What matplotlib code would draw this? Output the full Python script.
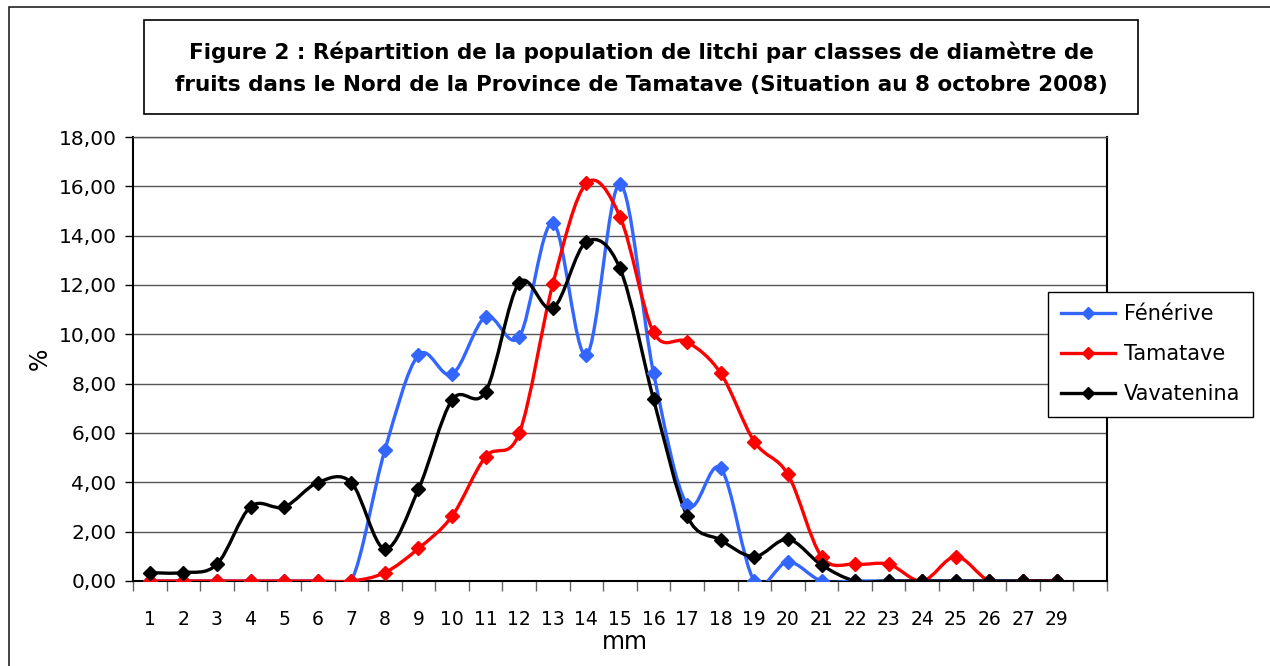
import matplotlib
matplotlib.use("Agg")
import matplotlib.pyplot as plt
from matplotlib.path import Path
from matplotlib.patches import PathPatch, Rectangle
from matplotlib.lines import Line2D
import numpy as np

categories = ['1', '2', '3', '4', '5', '6', '7', '8', '9', '10', '11', '12', '13', '14',
              '15', '16', '17', '18', '19', '20', '21', '22', '23', '24', '25', '26', '27', '29', '']

fenerive = [0, 0, 0, 0, 0, 0, 0, 5.31, 9.16, 8.38, 10.71, 9.90, 14.52, 9.16, 16.09, 8.42,
            3.10, 4.57, 0.0, 0.78, 0.0, 0, 0, 0, 0, 0, 0, 0]
tamatave = [0, 0, 0, 0, 0, 0, 0, 0.34, 1.32, 2.63, 5.04, 5.99, 12.04, 16.12, 14.77, 10.08,
            9.70, 8.42, 5.65, 4.32, 0.99, 0.68, 0.68, 0.0, 0.99, 0.0, 0.0, 0.0]
vavatenina = [0.34, 0.34, 0.68, 3.01, 3.00, 3.99, 3.99, 1.30, 3.72, 7.34, 7.68, 12.09, 11.05,
              13.75, 12.67, 7.36, 2.63, 1.66, 0.99, 1.69, 0.65, 0, 0, 0, 0, 0, 0, 0]

series_names = ['Fénérive', 'Tamatave', 'Vavatenina']
series_values = [fenerive, tamatave, vavatenina]
series_colors = ['#3366FF', '#FF0000', '#000000']

title = ("Figure 2 : Répartition de la population de litchi par classes de diamètre de\n"
         "fruits dans le Nord de la Province de Tamatave (Situation au 8 octobre 2008)")

W, H = 1270, 666
fig = plt.figure(figsize=(W / 100, H / 100), dpi=100)
fig.patch.set_facecolor('white')

# outer chart frame
fig.patches.append(Rectangle((9 / W, 1 - 680 / H), (1290 - 9) / W, (680 - 7) / H,
                             transform=fig.transFigure, fill=False, edgecolor='#222222',
                             linewidth=1.2))

ax = fig.add_axes([133 / W, 1 - 581 / H, (1107 - 133) / W, (581 - 137) / H])


def smooth_path(xs, ys):
    pts = np.column_stack([xs, ys]).astype(float)
    n = len(pts)
    verts = [pts[0]]
    codes = [Path.MOVETO]
    for i in range(n - 1):
        p0 = pts[i - 1] if i > 0 else pts[i]
        p1 = pts[i]
        p2 = pts[i + 1]
        p3 = pts[i + 2] if i + 2 < n else pts[i + 1]
        c1 = p1 + (p2 - p0) / 6.0
        c2 = p2 - (p3 - p1) / 6.0
        verts += [c1, c2, p2]
        codes += [Path.CURVE4, Path.CURVE4, Path.CURVE4]
    return Path(verts, codes)


handles = []
for name, vals, col in zip(series_names, series_values, series_colors):
    xs = np.arange(len(vals))
    patch = PathPatch(smooth_path(xs, vals), fill=False, edgecolor=col, linewidth=2.4,
                      zorder=3, capstyle='round', joinstyle='round')
    ax.add_patch(patch)
    ax.plot(xs, vals, linestyle='none', marker='D', markersize=7, color=col, zorder=4)
    handles.append(Line2D([0], [0], color=col, linewidth=2.4, marker='D', markersize=6))

ax.set_xlim(-0.5, len(categories) - 0.5)
ax.set_ylim(0, 18)

# y axis
yt = np.arange(0, 19, 2)
ax.set_yticks(yt)
ax.set_yticklabels([('%.2f' % v).replace('.', ',') for v in yt], fontsize=14.5)
ax.tick_params(axis='y', direction='out', length=6, width=1, pad=6)
ax.yaxis.grid(True, color='#555555', linewidth=1)
ax.set_axisbelow(True)

# x axis: ticks at category boundaries, labels at centers
ax.set_xticks(np.arange(-0.5, len(categories), 1.0))
ax.set_xticklabels([])
ax.set_xticks(np.arange(len(categories)), minor=True)
ax.set_xticklabels(categories, minor=True, fontsize=13.5)
ax.tick_params(axis='x', which='major', direction='out', length=7, width=1, color='#666666')
ax.tick_params(axis='x', which='minor', length=0, pad=21)

for s in ['left', 'bottom', 'right']:
    ax.spines[s].set_color('black')
    ax.spines[s].set_linewidth(1.5)
ax.spines['top'].set_color('#555555')
ax.spines['top'].set_linewidth(1)

ax.set_ylabel('%', fontsize=17)
ax.yaxis.set_label_coords(-0.083, 0.5)
ax.set_xlabel('mm', fontsize=17)
ax.xaxis.set_label_coords(0.505, -0.11)
ax.xaxis.label.set_va('top')

# title box
fig.patches.append(Rectangle((144 / W, 1 - 114 / H), (1138 - 144) / W, (114 - 20) / H,
                             transform=fig.transFigure, fill=False, edgecolor='black',
                             linewidth=1.2))
fig.text((144 + 1138) / 2 / W, 1 - 68 / H, title, ha='center', va='center',
         fontsize=15.5, fontweight='bold', linespacing=1.75)

leg = fig.legend(handles, series_names, loc='upper left',
                 bbox_to_anchor=(1048 / W, 1 - 292 / H), fontsize=15,
                 frameon=True, fancybox=False, edgecolor='black', framealpha=1,
                 handlelength=2.6, handletextpad=0.45, labelspacing=0.95, borderpad=0.6,
                 borderaxespad=0)
leg.get_frame().set_linewidth(1)

fig.savefig('out.png', dpi=100)
